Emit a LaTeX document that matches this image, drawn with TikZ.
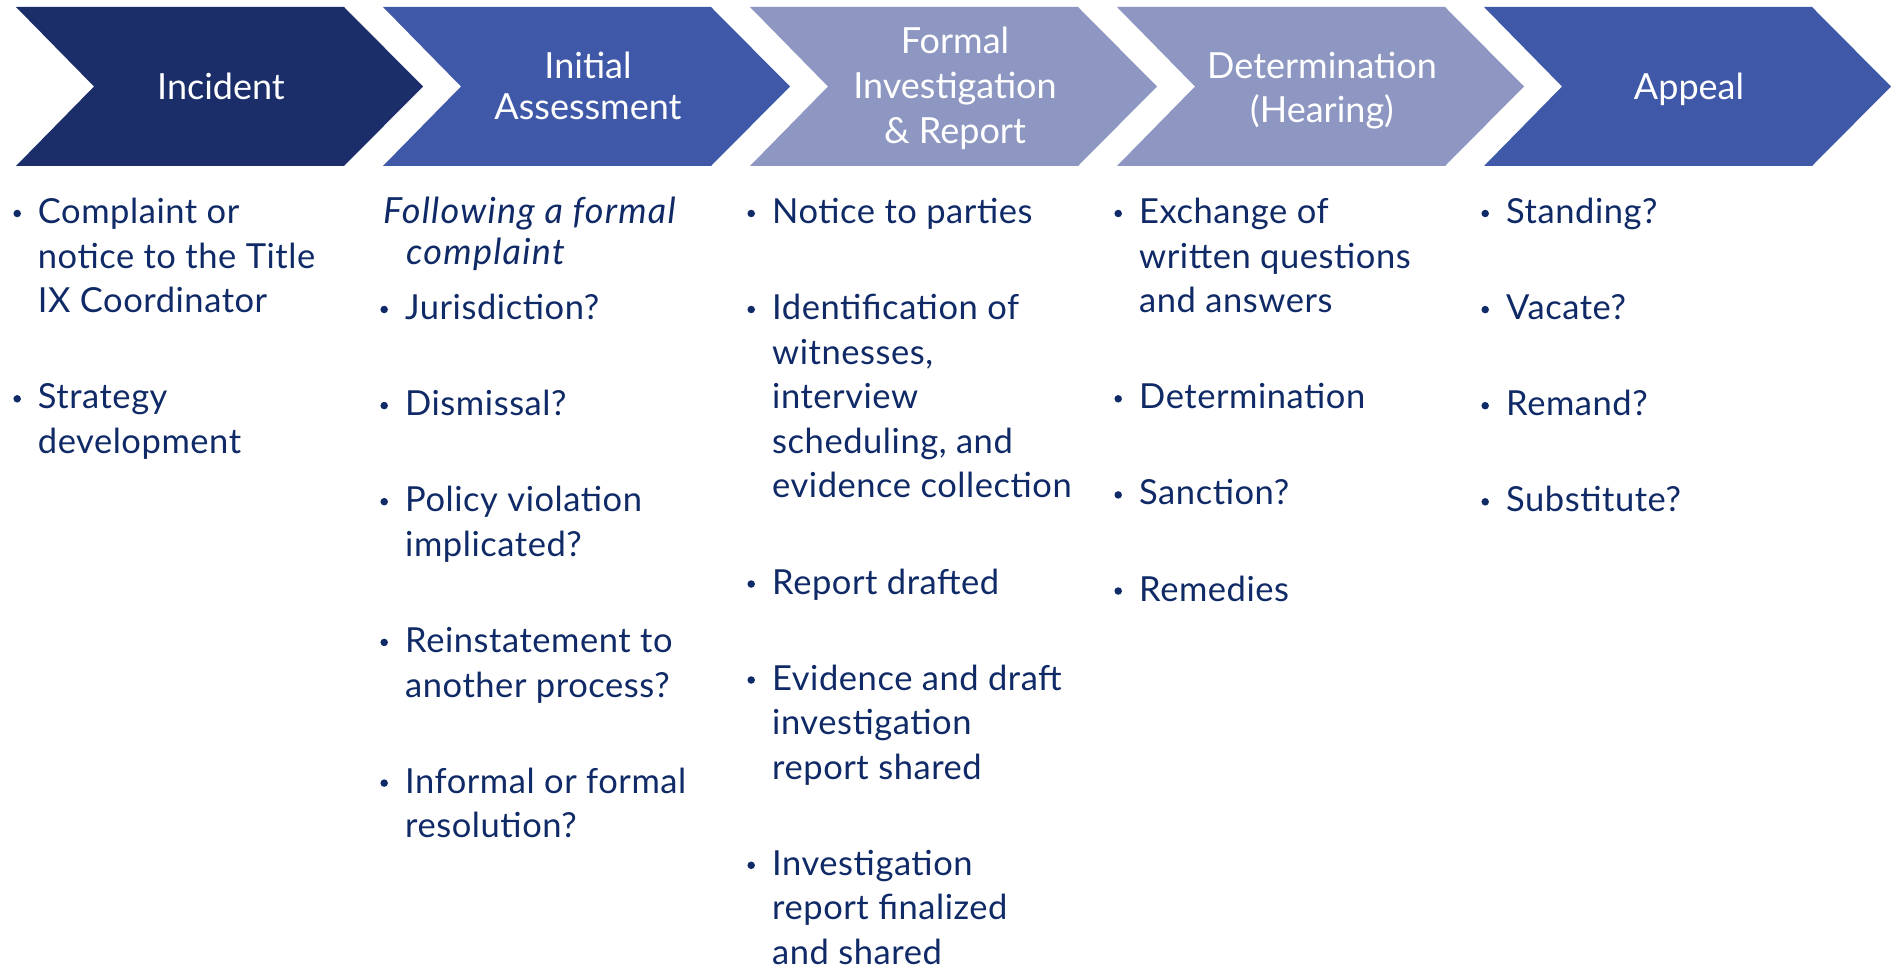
\documentclass[tikz,border=0pt]{standalone}
\usepackage{fontspec}
\setmainfont{Lato}
\newfontfamily\bodyfont[LetterSpace=1.6]{Lato}
\newfontfamily\bodyifont[LetterSpace=3.5,UprightFont=*-Italic]{Lato}
\definecolor{navy}{HTML}{1B2E69}
\definecolor{midblue}{HTML}{3F59A8}
\definecolor{paleblue}{HTML}{8D97C2}
\definecolor{txt}{HTML}{0F2A66}
\tikzset{
  headtext/.style={anchor=base, text=white, font=\fontsize{36}{40}\selectfont, inner sep=0pt},
  bodytext/.style={anchor=base west, text=txt, font=\bodyfont\fontsize{34.5}{40}\selectfont, inner sep=0pt},
  itext/.style={anchor=base west, text=txt, font=\fontsize{36}{40}\selectfont\itshape\addfontfeatures{LetterSpace=3.5}, inner sep=0pt},
  dot/.style={circle, fill=txt, inner sep=0pt, minimum size=7.5pt}
}
\begin{document}
\begin{tikzpicture}[x=1pt,y=-1pt]
\useasboundingbox (0,0) rectangle (1896,968);
\fill[white] (0,0) rectangle (1896,968);
% chevrons
\foreach \L/\c in {16/navy, 383/midblue, 750/paleblue, 1117/paleblue, 1484/midblue}{
  \fill[\c] (\L,7) -- (\L+328,7) -- (\L+407,86.5) -- (\L+328,166) -- (\L,166) -- (\L+78,86.5) -- cycle;
}
% headers
\node[headtext] (h1) at (221,100) {Incident};
\node[headtext] (h2a) at (588,79) {Initial};
\node[headtext] (h2b) at (588,120) {Assessment};
\node[headtext] (h3a) at (955,54) {Formal};
\node[headtext] (h3b) at (955,98.5) {Investigation};
\node[headtext] (h3c) at (955,144) {\& Report};
\node[headtext] (h4a) at (1322,79) {Determination};
\node[headtext] (h4b) at (1322,123) {(Hearing)};
\node[headtext] (h5) at (1689,100) {Appeal};
% column 1
\node[dot] (b1a) at (17.2,213.5) {};
\node[bodytext] (t1a1) at (37.7,223.5) {Complaint or};
\node[bodytext] (t1a2) at (37.7,268.1) {notice to the Title};
\node[bodytext] (t1a3) at (37.7,312.7) {IX Coordinator};
\node[dot] (b1b) at (17.2,398.8) {};
\node[bodytext] (t1b1) at (37.7,408.8) {Strategy};
\node[bodytext] (t1b2) at (37.7,453.4) {development};
% column 2
\node[itext] (t2i1) at (383,223.5) {Following a formal};
\node[itext] (t2i2) at (406,264.5) {complaint};
\node[dot] (b2a) at (384.2,309.5) {};
\node[bodytext] (t2a1) at (405,319.5) {Jurisdiction?};
\node[dot] (b2b) at (384.2,405.6) {};
\node[bodytext] (t2b1) at (405,415.6) {Dismissal?};
\node[dot] (b2c) at (384.2,501.7) {};
\node[bodytext] (t2c1) at (405,511.7) {Policy violation};
\node[bodytext] (t2c2) at (405,556.3) {implicated?};
\node[dot] (b2d) at (384.2,642.4) {};
\node[bodytext] (t2d1) at (405,652.4) {Reinstatement to};
\node[bodytext] (t2d2) at (405,697) {another process?};
\node[dot] (b2e) at (384.2,783.1) {};
\node[bodytext] (t2e1) at (405,793.1) {Informal or formal};
\node[bodytext] (t2e2) at (405,837.7) {resolution?};
% column 3
\node[dot] (b3a) at (751.2,213.5) {};
\node[bodytext] (t3a1) at (772,223.5) {Notice to parties};
\node[dot] (b3b) at (751.2,309.5) {};
\node[bodytext] (t3b1) at (772,319.5) {Identification of};
\node[bodytext] (t3b2) at (772,364.1) {witnesses,};
\node[bodytext] (t3b3) at (772,408.7) {interview};
\node[bodytext] (t3b4) at (772,453.3) {scheduling, and};
\node[bodytext] (t3b5) at (772,497.9) {evidence collection};
\node[dot] (b3c) at (751.2,584) {};
\node[bodytext] (t3c1) at (772,594) {Report drafted};
\node[dot] (b3d) at (751.2,680) {};
\node[bodytext] (t3d1) at (772,690) {Evidence and draft};
\node[bodytext] (t3d2) at (772,734.6) {investigation};
\node[bodytext] (t3d3) at (772,779.2) {report shared};
\node[dot] (b3e) at (751.2,865.3) {};
\node[bodytext] (t3e1) at (772,875.3) {Investigation};
\node[bodytext] (t3e2) at (772,919.9) {report finalized};
\node[bodytext] (t3e3) at (772,964.5) {and shared};
% column 4
\node[dot] (b4a) at (1118.2,213.5) {};
\node[bodytext] (t4a1) at (1139,223.5) {Exchange of};
\node[bodytext] (t4a2) at (1139,268.1) {written questions};
\node[bodytext] (t4a3) at (1139,312.7) {and answers};
\node[dot] (b4b) at (1118.2,398.8) {};
\node[bodytext] (t4b1) at (1139,408.8) {Determination};
\node[dot] (b4c) at (1118.2,494.9) {};
\node[bodytext] (t4c1) at (1139,504.9) {Sanction?};
\node[dot] (b4d) at (1118.2,591) {};
\node[bodytext] (t4d1) at (1139,601) {Remedies};
% column 5
\node[dot] (b5a) at (1485.2,213.5) {};
\node[bodytext] (t5a1) at (1506,223.5) {Standing?};
\node[dot] (b5b) at (1485.2,309.6) {};
\node[bodytext] (t5b1) at (1506,319.6) {Vacate?};
\node[dot] (b5c) at (1485.2,405.7) {};
\node[bodytext] (t5c1) at (1506,415.7) {Remand?};
\node[dot] (b5d) at (1485.2,501.8) {};
\node[bodytext] (t5d1) at (1506,511.8) {Substitute?};
\end{tikzpicture}
\end{document}
